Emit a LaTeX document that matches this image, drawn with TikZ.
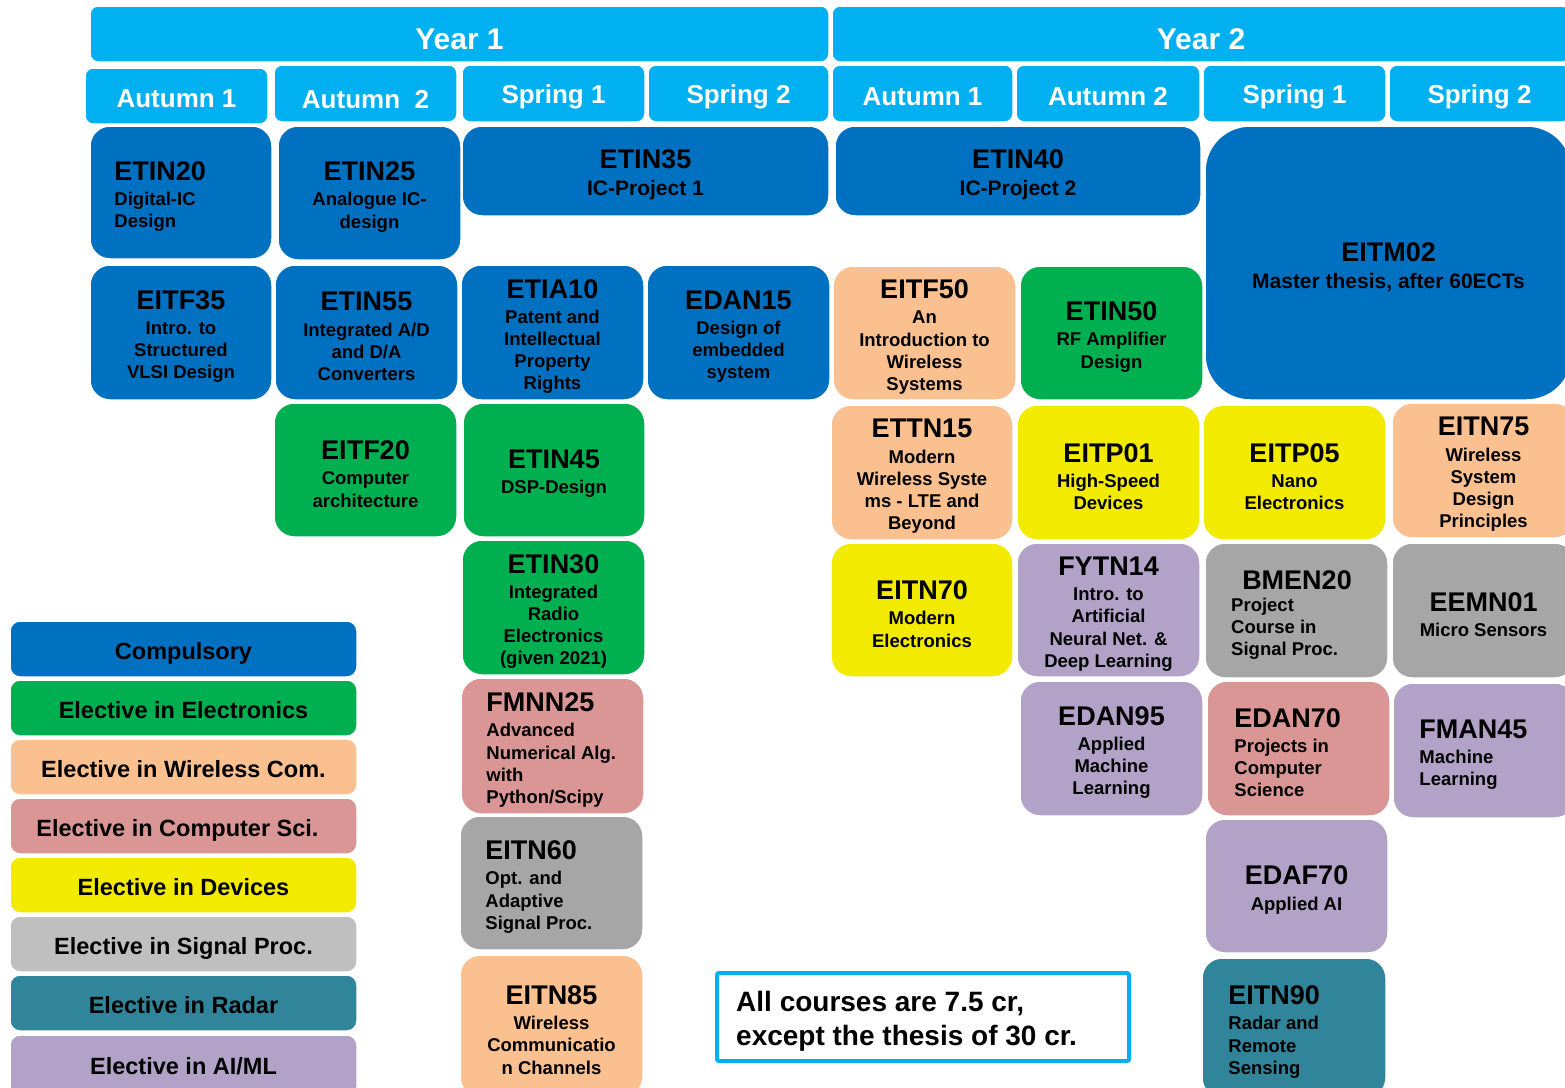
\documentclass[tikz,border=0pt]{standalone}
\usepackage{fontspec}
\setmainfont{Liberation Sans}
\definecolor{hblue}{RGB}{0,176,240}
\definecolor{cblue}{RGB}{0,112,192}
\definecolor{cgreen}{RGB}{0,176,80}
\definecolor{cpeach}{RGB}{250,192,144}
\definecolor{cpink}{RGB}{217,150,148}
\definecolor{cyellow}{RGB}{242,235,0}
\definecolor{cgray}{RGB}{166,166,166}
\definecolor{lgray}{RGB}{191,191,191}
\definecolor{cteal}{RGB}{49,133,155}
\definecolor{cpurple}{RGB}{178,162,199}
\newcommand\hdrfnt{\fontsize{30}{36}\selectfont\bfseries}
\newcommand\semfnt{\fontsize{26}{30}\selectfont\bfseries}
\newcommand\subfnt{\fontsize{18.5}{22.2}\selectfont\bfseries}
\newcommand\bigsubfnt{\fontsize{21}{25}\selectfont\bfseries}
\newcommand\codefnt{\fontsize{27}{30}\selectfont\bfseries}
\newcommand\legfnt{\fontsize{23.5}{28}\selectfont\bfseries}
\newcommand\notefnt{\fontsize{28}{34}\selectfont\bfseries}
% #1 box style, #2 name, #3-#6 x1 y1 x2 y2, #7 text style, #8 text
\newcommand\bx[8]{\node[#1,minimum width={#5-#3},minimum height={#6-#4}] (#2) at ({(#3+#5)/2},{(#4+#6)/2}) {};
  \node[inner sep=0pt,#7] (#2t) at (#2.center) {#8};}
\begin{document}
\begin{tikzpicture}[x=1pt,y=-1pt,
  hdr/.style={draw=white,line width=1.5pt,fill=hblue,rounded corners=8pt,inner sep=0pt},
  hdrt/.style={text=white,font=\hdrfnt,yshift=-5pt},
  semt/.style={text=white,font=\semfnt,yshift=-3pt},
  cbox/.style={draw=white,line width=1.5pt,rounded corners=20pt,inner sep=0pt},
  ct/.style={align=center,font=\subfnt,text=black,yshift=-4pt},
  ctb/.style={ct,font=\bigsubfnt},
  ltext/.style={anchor=west,align=left,inner sep=0pt,font=\subfnt,text=black},
  lbox/.style={draw=white,line width=1.5pt,rounded corners=10pt,inner sep=0pt},
  lt/.style={font=\legfnt,text=black,yshift=-4pt},
  notebox/.style={draw=hblue,line width=4pt,fill=white,rounded corners=2pt,inner sep=0pt}]
\useasboundingbox (0,0) rectangle (1565,1087);
\clip (0,0) rectangle (1565,1087);
% headers
\bx{hdr}{y1}{90}{6}{829}{62}{hdrt}{Year 1}
\bx{hdr}{y2}{832}{6}{1570}{62}{hdrt}{Year 2}
\bx{hdr}{s11}{85}{68}{268}{124}{semt}{Autumn 1}
\bx{hdr}{s12}{274}{65}{457}{122}{semt,yshift=-3pt}{Autumn \ 2}
\bx{hdr}{s13}{462}{65}{645}{122}{semt}{Spring 1}
\bx{hdr}{s14}{648}{65}{829}{122}{semt}{Spring 2}
\bx{hdr}{s21}{832}{65}{1013}{122}{semt}{Autumn 1}
\bx{hdr}{s22}{1016}{65}{1200}{122}{semt}{Autumn 2}
\bx{hdr}{s23}{1203}{65}{1386}{122}{semt}{Spring 1}
\bx{hdr}{s24}{1389}{65}{1570}{122}{semt}{Spring 2}
% row 1
\node[cbox,fill=cblue,minimum width=182,minimum height=133] (etin20) at (181,192.5) {};
\node[ltext] (etin20t) at ([xshift=25pt,yshift=-4pt]etin20.west) {{\codefnt ETIN20}\\[3pt]Digital-IC\\Design};
\bx{cbox,fill=cblue}{etin25}{278}{126}{461}{260}{ct}{{\codefnt ETIN25}\\[3pt]Analogue IC-\\design}
\bx{cbox,fill=cblue}{etin35}{462}{126}{829}{216}{ctb}{{\codefnt ETIN35}\\[2pt]IC-Project 1}
\bx{cbox,fill=cblue}{etin40}{835}{126}{1201}{216}{ctb}{{\codefnt ETIN40}\\[2pt]IC-Project 2}
\bx{cbox,fill=cblue,rounded corners=45pt}{eitm02}{1205}{126}{1572}{400}{ctb}{{\codefnt EITM02}\\[2pt]Master thesis, after 60ECTs}
% row 2
\bx{cbox,fill=cblue}{eitf35}{90}{265}{272}{400}{ct}{{\codefnt EITF35}\\[3pt]Intro. to\\Structured\\VLSI Design}
\bx{cbox,fill=cblue}{etin55}{275}{265}{458}{400}{ct}{{\codefnt ETIN55}\\[3pt]Integrated A/D\\and D/A\\Converters}
\bx{cbox,fill=cblue}{etia10}{461}{265}{644}{400}{ct}{{\codefnt ETIA10}\\[3pt]Patent and\\Intellectual\\Property\\Rights}
\bx{cbox,fill=cblue}{edan15}{647}{265}{830}{400}{ct}{{\codefnt EDAN15}\\[3pt]Design of\\embedded\\system}
\bx{cbox,fill=cpeach}{eitf50}{833}{266}{1016}{400}{ct}{{\codefnt EITF50}\\[3pt]An\\Introduction to\\Wireless\\Systems}
\bx{cbox,fill=cgreen}{etin50}{1020}{266}{1203}{400}{ct}{{\codefnt ETIN50}\\[3pt]RF Amplifier\\Design}
% row 3
\bx{cbox,fill=cgreen}{eitf20}{274}{403}{457}{537}{ct}{{\codefnt EITF20}\\[3pt]Computer\\architecture}
\bx{cbox,fill=cgreen}{etin45}{463}{403}{645}{537}{ct}{{\codefnt ETIN45}\\[3pt]DSP-Design}
\bx{cbox,fill=cpeach}{ettn15}{831}{405}{1013}{540}{ct}{{\codefnt ETTN15}\\[3pt]Modern\\Wireless Syste\\ms - LTE and\\Beyond}
\bx{cbox,fill=cyellow}{eitp01}{1017}{405}{1200}{540}{ct}{{\codefnt EITP01}\\[3pt]High-Speed\\Devices}
\bx{cbox,fill=cyellow}{eitp05}{1203}{405}{1386}{540}{ct}{{\codefnt EITP05}\\[3pt]Nano\\Electronics}
\bx{cbox,fill=cpeach}{eitn75}{1392}{403}{1575}{538}{ct}{{\codefnt EITN75}\\[3pt]Wireless\\System\\Design\\Principles}
% row 4
\bx{cbox,fill=cgreen}{etin30}{462}{540}{645}{675}{ct}{{\codefnt ETIN30}\\[3pt]Integrated\\Radio\\Electronics\\(given 2021)}
\bx{cbox,fill=cyellow}{eitn70}{831}{543}{1013}{677}{ct}{{\codefnt EITN70}\\[3pt]Modern\\Electronics}
\bx{cbox,fill=cpurple}{fytn14}{1017}{543}{1200}{677}{ct}{{\codefnt FYTN14}\\[3pt]Intro. to\\Artificial\\Neural Net. \&\\Deep Learning}
\node[cbox,fill=cgray,minimum width=183,minimum height=135] (bmen20) at (1296.5,610.5) {};
\node[inner sep=0pt,font=\codefnt] (bmen20c) at (1297,580) {BMEN20};
\node[ltext] (bmen20t) at (1231,629) {Project\\Course in\\Signal Proc.};
\bx{cbox,fill=cgray}{eemn01}{1392}{543}{1575}{678}{ct}{{\codefnt EEMN01}\\[3pt]Micro Sensors}
% row 5
\node[cbox,fill=cpink,minimum width=183,minimum height=136] (fmnn25) at (552.5,746) {};
\node[ltext] (fmnn25t) at ([xshift=26pt,yshift=-4pt]fmnn25.west) {{\codefnt FMNN25}\\[3pt]Advanced\\Numerical Alg.\\with\\Python/Scipy};
\bx{cbox,fill=cpurple}{edan95}{1020}{681}{1203}{816}{ct}{{\codefnt EDAN95}\\[3pt]Applied\\Machine\\Learning}
\node[cbox,fill=cpink,minimum width=183,minimum height=135] (edan70) at (1298.5,748.5) {};
\node[ltext] (edan70t) at ([xshift=28pt,yshift=-4pt]edan70.west) {{\codefnt EDAN70}\\[3pt]Projects in\\Computer\\Science};
\node[cbox,fill=cpurple,minimum width=182,minimum height=135] (fman45) at (1484,750.5) {};
\node[ltext] (fman45t) at ([xshift=27pt,yshift=-4pt]fman45.west) {{\codefnt FMAN45}\\[3pt]Machine\\Learning};
% row 6
\node[cbox,fill=cgray,minimum width=183,minimum height=134] (eitn60) at (551.5,883) {};
\node[ltext] (eitn60t) at ([xshift=26pt,yshift=-4pt]eitn60.west) {{\codefnt EITN60}\\[3pt]Opt. and\\Adaptive\\Signal Proc.};
\bx{cbox,fill=cpurple}{edaf70}{1205}{819}{1388}{953}{ct}{{\codefnt EDAF70}\\[3pt]Applied AI}
% row 7
\bx{cbox,fill=cpeach}{eitn85}{460}{955}{643}{1097}{ct}{{\codefnt EITN85}\\[3pt]Wireless\\Communicatio\\n Channels}
\node[cbox,fill=cteal,minimum width=184,minimum height=140] (eitn90) at (1294,1028) {};
\node[ltext] (eitn90t) at ([xshift=27pt,yshift=-4pt]eitn90.west) {{\codefnt EITN90}\\[3pt]Radar and\\Remote\\Sensing};
% legend
\bx{lbox,fill=cblue}{leg1}{10}{621}{357}{677}{lt}{Compulsory}
\bx{lbox,fill=cgreen}{leg2}{10}{680}{357}{736}{lt,yshift=2pt}{Elective in Electronics}
\bx{lbox,fill=cpeach}{leg3}{10}{739}{357}{795}{lt,yshift=2pt}{Elective in Wireless Com.}
\bx{lbox,fill=cpink}{leg4}{10}{798}{357}{854}{lt,xshift=-6pt}{Elective in Computer Sci.}
\bx{lbox,fill=cyellow}{leg5}{10}{857}{357}{913}{lt,yshift=2pt}{Elective in Devices}
\bx{lbox,fill=lgray}{leg6}{10}{916}{357}{972}{lt}{Elective in Signal Proc.}
\bx{lbox,fill=cteal}{leg7}{10}{975}{357}{1031}{lt,yshift=2pt}{Elective in Radar}
\bx{lbox,fill=cpurple}{leg8}{10}{1035}{357}{1097}{lt,yshift=4pt}{Elective in AI/ML}
% note
\node[notebox,minimum width=412,minimum height=88] (note) at (923,1017) {};
\node[anchor=west,align=left,inner sep=0pt,font=\notefnt] (notet) at ([xshift=21pt,yshift=-4pt]note.west) {All courses are 7.5 cr,\\except the thesis of 30 cr.};
\end{tikzpicture}
\end{document}
